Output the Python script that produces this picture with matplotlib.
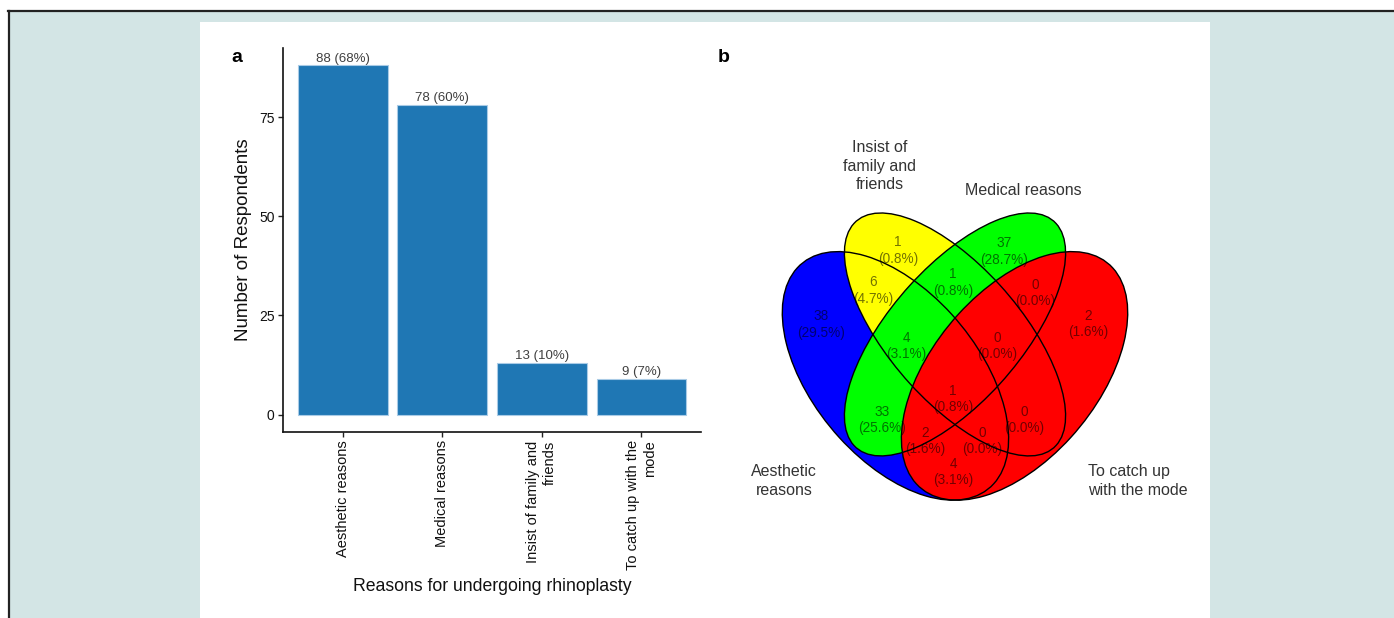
import matplotlib
matplotlib.use("Agg")
import matplotlib.pyplot as plt
from matplotlib.patches import Rectangle, Ellipse
from matplotlib.lines import Line2D

plt.rcParams["font.family"] = ["Liberation Sans", "DejaVu Sans"]

# --- data -------------------------------------------------------------
reasons = ["Aesthetic reasons", "Medical reasons",
           "Insist of family and\nfriends", "To catch up with the\nmode"]
respondents = [88, 78, 13, 9]
respondent_pct = [68, 60, 10, 7]

set_names = ["Aesthetic\nreasons", "Insist of\nfamily and\nfriends",
             "Medical reasons", "To catch up\nwith the mode"]
set_colors = ["#0000FF", "#FFFF00", "#00FF00", "#FF0000"]

# venn regions: A=aesthetic, I=insist, M=medical, T=to catch up
region_keys = ["A", "I", "AI", "IM", "M", "MT", "T", "AIM", "IMT",
               "AM", "AIMT", "IT", "AMT", "AIT", "AT"]
region_counts = [38, 1, 6, 1, 37, 0, 2, 4, 0, 33, 1, 0, 2, 0, 4]
region_pct = [29.5, 0.8, 4.7, 0.8, 28.7, 0.0, 1.6, 3.1, 0.0,
              25.6, 0.8, 0.0, 1.6, 0.0, 3.1]

# --- layout -----------------------------------------------------------
W, H = 1394, 618
fig = plt.figure(figsize=(W / 100, H / 100), dpi=100, facecolor="white")


def fx(x):
    return x / W


def fy(y):
    return 1 - y / H


# page background, border lines, white panel (behind the axes)
fig.patches.append(Rectangle((fx(9), 0), 1 - fx(9), fy(12), transform=fig.transFigure,
                             facecolor="#d3e5e5", edgecolor="none", zorder=-3))
fig.lines.append(Line2D([fx(8), 1], [fy(11), fy(11)], transform=fig.transFigure,
                        color="#222222", lw=1.6, zorder=-2))
fig.lines.append(Line2D([fx(8.5), fx(8.5)], [0, fy(11)], transform=fig.transFigure,
                        color="#222222", lw=1.6, zorder=-2))
fig.patches.append(Rectangle((fx(200), 0), fx(1210) - fx(200), fy(22), transform=fig.transFigure,
                             facecolor="white", edgecolor="none", zorder=-1))

# --- panel a: bar chart -----------------------------------------------
ax = fig.add_axes([fx(283), fy(432), fx(701) - fx(283), fy(48) - fy(432)])
ax.set_facecolor("none")
pos = list(range(1, len(reasons) + 1))
bars = ax.bar(pos, respondents, width=0.9, color="#1F77B4",
              edgecolor="#a9cbe6", linewidth=0.8)
for b, n, p in zip(bars, respondents, respondent_pct):
    ax.annotate(f"{n} ({p}%)", (b.get_x() + b.get_width() / 2, b.get_height()),
                textcoords="offset points", xytext=(0, 0.5), ha="center", va="bottom",
                fontsize=9.5, color="#404040")

ax.set_xlim(0.4, 4.6)
ax.set_ylim(-4.4, 92.4)
ax.set_yticks([0, 25, 50, 75])
ax.set_xticks(pos)
ax.set_xticklabels(reasons, rotation=90, ha="center", va="top",
                   multialignment="right", fontsize=10.5, color="#111111",
                   linespacing=1.25)
ax.tick_params(axis="y", labelsize=10, labelcolor="#111111")
ax.tick_params(length=3.5, width=1.0, color="#222222", pad=2.5)
for s in ["top", "right"]:
    ax.spines[s].set_visible(False)
for s in ["left", "bottom"]:
    ax.spines[s].set_linewidth(1.2)
    ax.spines[s].set_color("#111111")

ax.set_ylabel("Number of Respondents", fontsize=13.5, color="#111111")
ax.yaxis.set_label_coords((252 - 283) / 418, 0.5)
ax.set_xlabel("Reasons for undergoing rhinoplasty", fontsize=12.7, color="#111111")
ax.xaxis.set_label_coords(0.5, (432 - 578) / 384)

fig.text(fx(237), fy(57), "a", fontsize=14, fontweight="bold", ha="center", va="center")
fig.text(fx(724), fy(57), "b", fontsize=14, fontweight="bold", ha="center", va="center")

# --- panel b: four-set venn -------------------------------------------
# unit square mapped onto pixels: x = 756.5 + 397*u, y = 580.8 - 436*v
vx = fig.add_axes([fx(710), fy(618), fx(1187) - fx(710), fy(22) - fy(618)])
vx.set_xlim((710 - 756.5) / 397, (1187 - 756.5) / 397)
vx.set_ylim((580.8 - 618) / 436, (580.8 - 22) / 436)
vx.axis("off")

ellipses = [  # (x, y, a, b, angle) for A, I, M, T
    (0.35, 0.47, 0.35, 0.20, 135),
    (0.50, 0.565, 0.36, 0.16, 135),
    (0.50, 0.565, 0.36, 0.16, 45),
    (0.65, 0.47, 0.35, 0.20, 45),
]
for (x, y, a, b, ang), c in zip(ellipses, set_colors):
    vx.add_patch(Ellipse((x, y), 2 * a, 2 * b, angle=ang, facecolor=c,
                         edgecolor="none", zorder=1))
for (x, y, a, b, ang) in ellipses:
    vx.add_patch(Ellipse((x, y), 2 * a, 2 * b, angle=ang, facecolor="none",
                         edgecolor="black", linewidth=1.0, zorder=2))

region_xy = {
    "A": (0.1625, 0.587), "I": (0.356, 0.758), "AI": (0.2935, 0.665),
    "IM": (0.495, 0.685), "M": (0.6234, 0.756), "MT": (0.7015, 0.660),
    "T": (0.835, 0.589), "AIM": (0.3766, 0.5385), "IMT": (0.6058, 0.5385),
    "AM": (0.316, 0.369), "AIMT": (0.495, 0.417), "IT": (0.6738, 0.369),
    "AMT": (0.4244, 0.3206), "AIT": (0.568, 0.3206), "AT": (0.495, 0.2495),
}
for k, n, p in zip(region_keys, region_counts, region_pct):
    u, v = region_xy[k]
    vx.text(u, v, f"{n}\n({p:.1f}%)", ha="center", va="center", fontsize=9.8,
            linespacing=1.25, color="black", alpha=0.55, zorder=3)


def unit(px, py):
    return (px - 756.5) / 397, (580.8 - py) / 436


cat_pos = [(unit(784, 481), "center"), (unit(880, 166), "center"),
           (unit(1023, 190), "center"), (unit(1088, 481), "left")]
for name, ((u, v), ha) in zip(set_names, cat_pos):
    vx.text(u, v, name, ha=ha, va="center", multialignment=ha, fontsize=11.5,
            linespacing=1.3, color="#333333", clip_on=True, zorder=3)

plt.savefig("out.png", dpi=100, facecolor=fig.get_facecolor())
